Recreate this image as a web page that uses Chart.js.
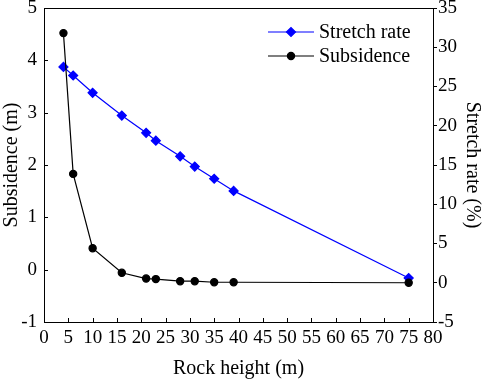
<!DOCTYPE html>
<html>
<head>
<meta charset="utf-8">
<script src="https://cdn.jsdelivr.net/npm/chart.js@4.4.1/dist/chart.umd.min.js"></script>
<style>
  html, body { margin: 0; padding: 0; background: #fff; }
  #wrap { width: 484px; height: 381px; position: relative; }
</style>
</head>
<body>
<div id="wrap"><canvas id="myChart"></canvas></div>
<script>
// values
let rockHeight = [4, 6, 10, 16, 21, 23, 28, 31, 35, 39, 75]
let subsidence = [4.52, 1.83, 0.41, -0.06, -0.17, -0.18, -0.22, -0.22, -0.24, -0.24, -0.25]
let stretchRate = [27.5, 26.4, 24.2, 21.3, 19.1, 18.1, 16.1, 14.8, 13.25, 11.7, 0.6]

let xTicks = [0, 80, 5]
let leftTicks = [-1, 5, 1]
let rightTicks = [-5, 35, 5]

let serif = "'Liberation Serif', serif"

function toPoints(xs, ys) {
  return xs.map(function (x, i) { return { x: x, y: ys[i] } })
}

// keep the plot box fixed: no extra room for end labels
function fixVertical(width) {
  return function (s) {
    s.width = width
    s.paddingTop = 0
    s.paddingBottom = 0
  }
}

// inward ticks on bottom and left axes, top frame line
let frameTicks = {
  id: "frameTicks",
  afterDatasetsDraw: function (chart) {
    let ctx = chart.ctx
    let area = chart.chartArea
    ctx.save()
    ctx.strokeStyle = "#000"
    ctx.lineWidth = 1
    ctx.beginPath()
    ctx.moveTo(area.left, area.top + 0.5)
    ctx.lineTo(area.right, area.top + 0.5)
    let xs = chart.scales.x
    xs.ticks.forEach(function (t) {
      let px = Math.round(xs.getPixelForValue(t.value)) + 0.5
      ctx.moveTo(px, area.bottom)
      ctx.lineTo(px, area.bottom - 4)
    })
    let ys = chart.scales.y
    ys.ticks.forEach(function (t) {
      let py = Math.round(ys.getPixelForValue(t.value)) + 0.5
      ctx.moveTo(area.left, py)
      ctx.lineTo(area.left + 4, py)
    })
    ctx.stroke()
    ctx.restore()
  }
}

// legend with line + marker, placed inside the plot
let lineLegend = {
  id: "lineLegend",
  afterDraw: function (chart) {
    let ctx = chart.ctx
    ctx.save()
    ctx.font = "20px " + serif
    ctx.textBaseline = "middle"
    let rows = [0, 1]
    rows.forEach(function (idx, r) {
      let ds = chart.data.datasets[idx]
      let y = 32 + r * 24
      ctx.strokeStyle = ds.borderColor
      ctx.fillStyle = ds.backgroundColor
      ctx.lineWidth = 1.2
      ctx.beginPath()
      ctx.moveTo(268, y)
      ctx.lineTo(314, y)
      ctx.stroke()
      Chart.helpers.drawPoint(ctx, {
        pointStyle: ds.pointStyle,
        radius: ds.pointRadius,
        borderWidth: 1
      }, 291, y)
      ctx.fillStyle = "#000"
      ctx.fillText(ds.label, 319, y + 1)
    })
    ctx.restore()
  }
}

let ctx = document.getElementById("myChart").getContext("2d")
let chart = new Chart(ctx, {
  type: "scatter",
  data: {
    datasets: [
      {
        label: "Stretch rate",
        data: toPoints(rockHeight, stretchRate),
        yAxisID: "y2",
        showLine: true,
        borderColor: "#0000ff",
        backgroundColor: "#0000ff",
        borderWidth: 1.2,
        pointStyle: "rectRot",
        pointRadius: 4.5,
        pointHoverRadius: 4.5,
        order: 2
      },
      {
        label: "Subsidence",
        data: toPoints(rockHeight, subsidence),
        yAxisID: "y",
        showLine: true,
        borderColor: "#000000",
        backgroundColor: "#000000",
        borderWidth: 1.2,
        pointStyle: "circle",
        pointRadius: 3.6,
        pointHoverRadius: 3.6,
        order: 1
      }
    ]
  },
  options: {
    responsive: true,
    maintainAspectRatio: false,
    animation: false,
    layout: { padding: { top: 8, left: 0, right: 0, bottom: 0 } },
    plugins: {
      legend: { display: false },
      tooltip: { enabled: false }
    },
    scales: {
      x: {
        type: "linear",
        min: xTicks[0],
        max: xTicks[1],
        afterFit: function (s) {
          s.height = 59
          s.paddingLeft = 0
          s.paddingRight = 0
        },
        ticks: { stepSize: xTicks[2], color: "#000", font: { family: serif, size: 19 }, padding: 5, maxRotation: 0, autoSkip: false },
        grid: { drawOnChartArea: false, drawTicks: false },
        border: { color: "#000", width: 1 },
        title: { display: true, text: "Rock height (m)", color: "#000", font: { family: serif, size: 20 }, padding: { top: 0, bottom: 0 } }
      },
      y: {
        position: "left",
        min: leftTicks[0],
        max: leftTicks[1],
        afterFit: fixVertical(44),
        ticks: { stepSize: leftTicks[2], color: "#000", font: { family: serif, size: 19 }, padding: 7 },
        grid: { drawOnChartArea: false, drawTicks: false },
        border: { color: "#000", width: 1 },
        title: { display: true, text: "Subsidence (m)", color: "#000", font: { family: serif, size: 20 }, padding: { top: 0, bottom: 0 } }
      },
      y2: {
        position: "right",
        min: rightTicks[0],
        max: rightTicks[1],
        afterFit: fixVertical(51),
        ticks: { stepSize: rightTicks[2], color: "#000", font: { family: serif, size: 19 }, padding: 1 },
        grid: { drawOnChartArea: false, drawTicks: true, tickLength: 4, color: "#000" },
        border: { color: "#000", width: 1 },
        title: { display: true, text: "Stretch rate (%)", color: "#000", font: { family: serif, size: 20 }, padding: { top: 0, bottom: 0 } }
      }
    }
  },
  plugins: [frameTicks, lineLegend]
})
</script>
</body>
</html>
